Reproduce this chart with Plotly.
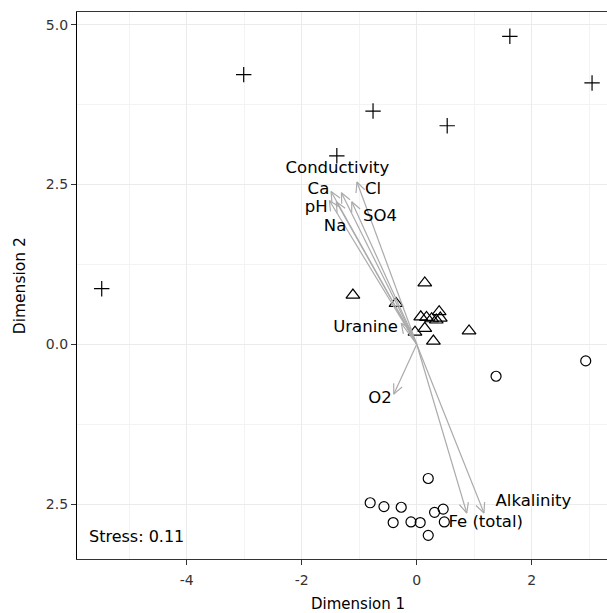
import math
import plotly.graph_objects as go

# --- NMDS site scores, by group ---------------------------------------------
group1_x = [-5.48, -3.01, -1.39, -0.76, 0.53, 1.62, 3.05]
group1_y = [0.87, 4.22, 2.95, 3.65, 3.42, 4.82, 4.09]

group2_x = [0.14, -1.11, -0.36, 0.07, 0.17, 0.26, 0.34, 0.39, 0.41, 0.14, -0.03, 0.29, 0.91]
group2_y = [0.96, 0.77, 0.64, 0.43, 0.42, 0.40, 0.38, 0.51, 0.41, 0.25, 0.19, 0.05, 0.21]

group3_x = [1.38, 2.94, 0.20, -0.81, -0.57, -0.27, -0.41, -0.10, 0.06, 0.31, 0.46, 0.48, 0.20]
group3_y = [-0.50, -0.26, -2.10, -2.48, -2.54, -2.55, -2.79, -2.78, -2.79, -2.63, -2.58, -2.78, -2.99]

# --- fitted environmental vectors ------------------------------------------
variables = ["Conductivity", "Ca", "Cl", "pH", "Na", "SO4", "Uranine", "O2", "Fe (total)", "Alkalinity"]
vec_x = [-1.31, -1.49, -1.04, -1.52, -1.40, -1.13, -0.27, -0.40, 0.87, 1.17]
vec_y = [2.37, 2.39, 2.54, 2.25, 2.23, 2.23, 0.33, -0.78, -2.64, -2.64]
label_x = [-1.38, -1.71, -0.76, -1.75, -1.42, -0.64, -0.89, -0.64, 1.20, 2.03]
label_y = [2.75, 2.42, 2.42, 2.13, 1.83, 1.99, 0.25, -0.85, -2.79, -2.46]

stress_text = "Stress: 0.11"

# axis settings
x_range = [-5.91, 3.31]
y_range = [-3.36, 5.20]
y_tickvals = [-2.5, 0.0, 2.5, 5.0]
y_ticktext = ["2.5", "0.0", "2.5", "5.0"]
x_tickvals = [-4, -2, 0, 2]
x_ticktext = ["-4", "-2", "0", "2"]

W, H = 607, 613
M = dict(l=77, r=0, t=12, b=54)
plot_w = W - M["l"] - M["r"]
plot_h = H - M["t"] - M["b"]
sx = plot_w / (x_range[1] - x_range[0])   # px per data unit
sy = plot_h / (y_range[1] - y_range[0])

FONT = "DejaVu Sans, Verdana, sans-serif"
ARROW_COL = "#ABABAB"

fig = go.Figure()

# site scores
fig.add_trace(go.Scatter(
    x=group1_x, y=group1_y, mode="markers", hoverinfo="skip",
    marker=dict(symbol="cross-thin-open", size=11, color="black",
                line=dict(color="black", width=1.2))))
fig.add_trace(go.Scatter(
    x=group2_x, y=group2_y, mode="markers", hoverinfo="skip",
    marker=dict(symbol="triangle-up-open", size=12, color="black",
                line=dict(color="black", width=1.2))))
fig.add_trace(go.Scatter(
    x=group3_x, y=group3_y, mode="markers", hoverinfo="skip",
    marker=dict(symbol="circle-open", size=10, color="black",
                line=dict(color="black", width=1.2))))

# vector shafts from the origin
sx_pts, sy_pts = [], []
for vx, vy in zip(vec_x, vec_y):
    sx_pts += [0, vx, None]
    sy_pts += [0, vy, None]
fig.add_trace(go.Scatter(x=sx_pts, y=sy_pts, mode="lines", hoverinfo="skip",
                         line=dict(color=ARROW_COL, width=1.2)))

# open arrow heads, built in screen space so both wings have equal length
head_len = 11.0
head_ang = math.radians(25)
hx, hy = [], []
for vx, vy in zip(vec_x, vec_y):
    dx, dy = vx * sx, -vy * sy
    n = math.hypot(dx, dy)
    ux, uy = -dx / n, -dy / n
    for s in (1, -1):
        a = s * head_ang
        wx = head_len * (ux * math.cos(a) - uy * math.sin(a))
        wy = head_len * (ux * math.sin(a) + uy * math.cos(a))
        hx += [vx + wx / sx]
        hy += [vy - wy / sy]
        if s == 1:
            hx += [vx]
            hy += [vy]
    hx += [None]
    hy += [None]
fig.add_trace(go.Scatter(x=hx, y=hy, mode="lines", hoverinfo="skip",
                         line=dict(color=ARROW_COL, width=1.2)))

# vector labels
fig.add_trace(go.Scatter(x=label_x, y=label_y, mode="text", text=variables,
                         hoverinfo="skip",
                         textfont=dict(family=FONT, size=16.5, color="black")))

fig.add_annotation(x=-5.73, y=-3.01, text=stress_text, showarrow=False,
                   xanchor="left", yanchor="middle",
                   font=dict(family=FONT, size=16, color="black"))

# axis titles
fig.add_annotation(x=(357.7 - M["l"]) / plot_w, y=-0.083, xref="paper", yref="paper",
                   text="Dimension 1", showarrow=False, xanchor="center", yanchor="middle",
                   font=dict(family=FONT, size=15, color="black"))
fig.add_annotation(x=-0.108, y=0.5, xref="paper", yref="paper", textangle=-90,
                   text="Dimension 2", showarrow=False, xanchor="center", yanchor="middle",
                   font=dict(family=FONT, size=15.5, color="black"))

fig.update_xaxes(range=x_range, tickvals=x_tickvals, ticktext=x_ticktext,
                 showgrid=True, gridcolor="#EBEBEB", gridwidth=1,
                 minor=dict(dtick=1, showgrid=True, gridcolor="#F3F3F3", gridwidth=0.8),
                 zeroline=False, showline=True, linecolor="#333333", linewidth=1.3,
                 mirror=True, ticks="outside", ticklen=5, tickcolor="#333333",
                 ticklabelstandoff=3,
                 tickfont=dict(family=FONT, size=14, color="#333333"))
fig.update_yaxes(range=y_range, tickvals=y_tickvals, ticktext=y_ticktext,
                 showgrid=True, gridcolor="#EBEBEB", gridwidth=1,
                 minor=dict(tickvals=[-1.25, 1.25, 3.75], showgrid=True,
                            gridcolor="#F3F3F3", gridwidth=0.8),
                 zeroline=False, showline=True, linecolor="black", linewidth=1.3,
                 ticks="outside", ticklen=5, tickcolor="#333333",
                 tickfont=dict(family=FONT, size=14, color="#333333"))

fig.update_layout(width=W, height=H, margin=M, showlegend=False,
                  plot_bgcolor="white", paper_bgcolor="white")

fig.write_html("out.html")
